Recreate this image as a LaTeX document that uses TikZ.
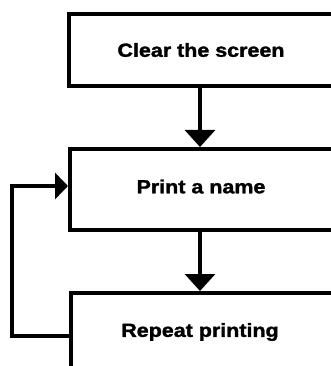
\documentclass[tikz,border=0pt]{standalone}
\usepackage{fontspec}
\setmainfont{Liberation Sans}
\newfontfamily\heavy[FakeBold=1.6]{Liberation Sans Bold}
\usetikzlibrary{arrows.meta}
\begin{document}
\begin{tikzpicture}[x=1pt,y=-1pt,
  lbl/.style={font=\fontsize{19}{22}\heavy},
  box/.style={draw=black,line width=4pt,rectangle,minimum width=264pt,anchor=north west,inner sep=0pt,lbl},
  flow/.style={line width=3.2pt,-{Triangle[width=30pt,length=17pt]}},
  loopline/.style={line width=3.6pt,-{Triangle[width=26pt,length=13pt]}}]
\useasboundingbox (0,0) rectangle (331,366);
\clip (0,0) rectangle (331,366);
\node[box,minimum height=72pt] (b1) at (67,12) {\scalebox{1.13}[1]{Clear the screen}};
\node[box,minimum height=81pt] (b2) at (68,147) {};
\node[lbl] (t2) at (201,186.5) {\scalebox{1.13}[1]{Print a name}};
\node[box,minimum height=90pt] (b3) at (69,291) {};
\node[lbl] (t3) at (200,332) {\scalebox{1.13}[1]{Repeat printing}};
\coordinate (l1) at (12,336);
\coordinate (l2) at (12,186);
\draw[flow] (b1.south -| 200,0) -- (b2.north -| 200,0);
\draw[flow] (b2.south -| 200,0) -- (b3.north -| 200,0);
\draw[loopline] (b3.west |- l1) -- (l1) -- (l2) -- (b2.west |- l2);
\end{tikzpicture}
\end{document}
